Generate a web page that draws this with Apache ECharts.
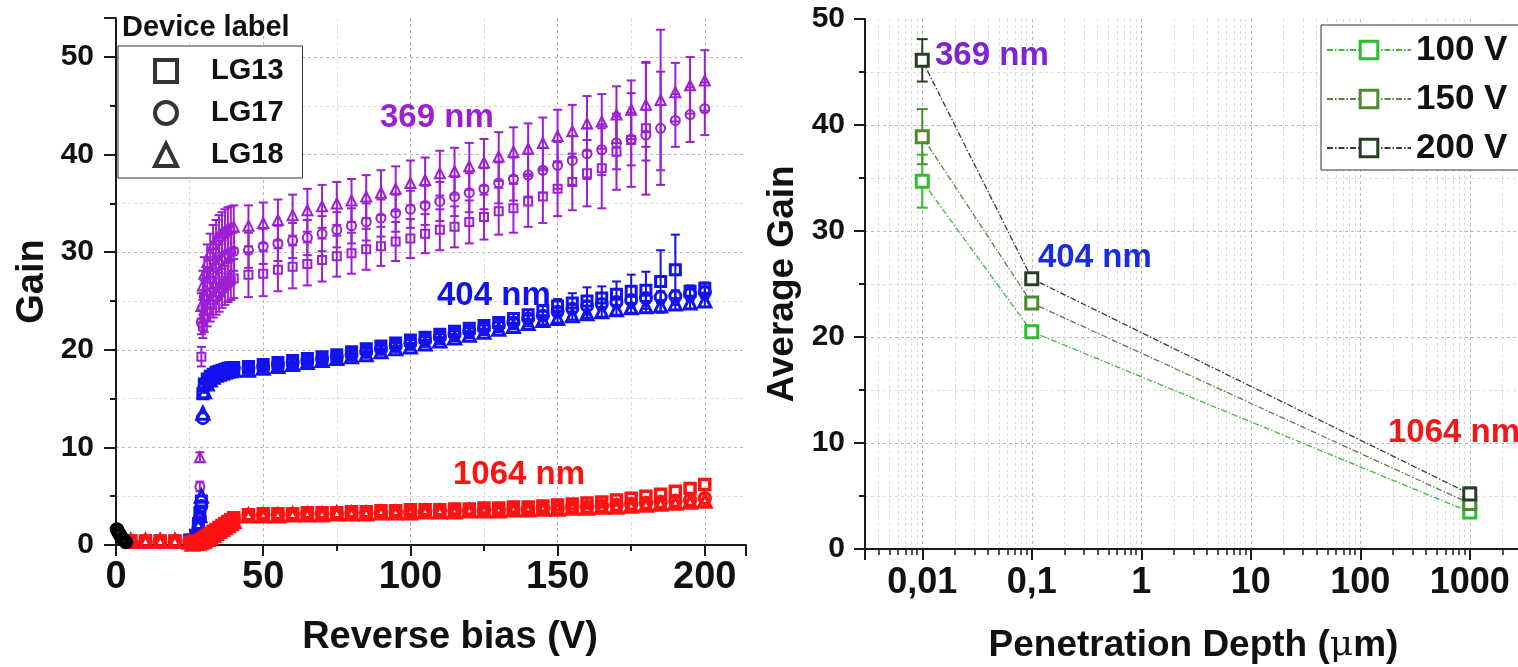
<!DOCTYPE html>
<html><head><meta charset="utf-8">
<script src="https://cdn.jsdelivr.net/npm/echarts@6/dist/echarts.min.js"></script>
<style>html,body{margin:0;padding:0;background:#fff;overflow:hidden;width:1518px;height:667px}#c{width:1600px;height:667px}</style>
</head><body><div id="c"></div>
<script>
// ---------------- Left panel: Gain vs reverse bias ----------------
const V_LOW = [5, 10, 15, 20, 25];
const V_MAIN = [45, 50, 55, 60, 65, 70, 75, 80, 85, 90, 95, 100, 105, 110, 115, 120, 125, 130, 135, 140, 145, 150, 155, 160, 165, 170, 175, 180, 185, 190, 195, 200];
const V_T369 = [28.5, 29, 29.5, 30, 31, 32, 33, 34, 35, 36, 37, 38, 39, 40];
const V_T404 = [26, 27, 28, 28.5, 29, 29.5, 30, 31, 32, 33, 34, 35, 36, 37, 38, 39, 40];
const V_T1064 = [26, 27, 28, 29, 30, 31, 32, 33, 34, 35, 36, 37, 38, 39, 40];
const V_DARK = [0.3, 0.8, 1.4, 2.0, 2.7, 3.4];
const G_DARK = [1.6, 1.3, 1.0, 0.7, 0.5, 0.3];

// 369 nm
const G369_13_T = [3.0, 19.3, 22.4, 23.3, 24.0, 24.6, 25.1, 25.5, 25.9, 26.3, 26.6, 26.9, 27.1, 27.3];
const E369_13_T = [0.4, 1.0, 1.2, 1.5, 1.6, 1.7, 1.8, 1.9, 2.0, 2.0, 2.0, 2.0, 2.0, 2.0];
const G369_17_T = [6.0, 22.8, 24.3, 25.4, 26.5, 27.3, 27.9, 28.4, 28.8, 29.2, 29.5, 29.8, 30.0, 30.1];
const E369_17_T = [0.5, 1.2, 1.5, 1.7, 1.8, 1.9, 2.0, 2.0, 2.0, 2.0, 2.0, 2.0, 2.0, 2.0];
const G369_18_T = [9.0, 24.5, 26.6, 27.8, 29.0, 30.0, 30.8, 31.3, 31.7, 32.0, 32.2, 32.4, 32.5, 32.6];
const E369_18_T = [0.5, 1.3, 1.5, 1.7, 1.8, 1.9, 2.0, 2.0, 2.1, 2.1, 2.2, 2.2, 2.2, 2.2];
const G369_13 = [27.7, 27.8, 28.2, 28.5, 28.8, 29.2, 29.6, 29.9, 30.3, 30.6, 31.1, 31.4, 31.9, 32.3, 32.6, 33.1, 33.6, 34.2, 34.5, 35.2, 35.7, 36.5, 37.2, 38.1, 38.6, 40.3, 41.5, 42.7];
const E369_13 = [2.3, 2.3, 2.2, 2.2, 2.2, 2.2, 2.1, 2.1, 2.1, 2.0, 2.0, 2.0, 2.0, 2.1, 2.1, 2.2, 2.3, 2.4, 2.5, 2.6, 2.7, 2.8, 2.9, 3.4, 4.1, 3.9, 4.8, 6.8];
const G369_17 = [30.2, 30.6, 30.9, 31.2, 31.5, 31.9, 32.3, 32.7, 33.1, 33.5, 34.0, 34.4, 34.8, 35.2, 35.7, 36.1, 36.5, 37.1, 37.5, 37.9, 38.4, 38.9, 39.4, 40.1, 40.5, 41.2, 41.6, 42.0, 42.7, 43.5, 44.1, 44.7];
const E369_17 = [1.8, 1.8, 1.8, 1.8, 1.8, 1.8, 1.8, 1.8, 1.9, 1.9, 1.9, 1.9, 2.0, 2.0, 2.0, 2.0, 2.1, 2.1, 2.2, 2.2, 2.3, 2.4, 2.5, 2.6, 2.6, 2.7, 2.7, 2.6, 5.8, 2.7, 2.8, 2.7];
const G369_18 = [32.7, 33.0, 33.3, 33.8, 34.3, 34.7, 35.0, 35.3, 35.7, 36.1, 36.5, 37.1, 37.4, 38.1, 38.3, 38.8, 39.2, 39.8, 40.3, 40.6, 41.2, 41.9, 42.4, 43.2, 43.4, 44.1, 44.6, 45.1, 45.6, 46.4, 47.1, 47.6];
const E369_18 = [2.1, 2.1, 2.1, 2.1, 2.2, 2.2, 2.2, 2.2, 2.2, 2.3, 2.3, 2.3, 2.3, 2.3, 2.4, 2.4, 2.4, 2.5, 2.5, 2.6, 2.6, 2.7, 2.7, 2.8, 2.8, 2.9, 3.0, 4.3, 7.2, 3.0, 2.9, 3.1];

// 404 nm
const G404_13_L = [0.4, 0.4, 0.4, 0.4, 0.5];
const G404_17_L = [0.3, 0.3, 0.3, 0.3, 0.4];
const G404_18_L = [0.4, 0.4, 0.4, 0.4, 0.4];
const G404_13_T = [0.5, 1.0, 2.2, 3.3, 4.5, 15.5, 16.5, 17.0, 17.3, 17.5, 17.7, 17.8, 17.9, 18.0, 18.1, 18.15, 18.2];
const G404_17_T = [0.4, 0.8, 1.8, 2.8, 4.0, 13.0, 16.2, 16.8, 17.2, 17.4, 17.6, 17.7, 17.8, 17.9, 18.0, 18.05, 18.1];
const G404_18_T = [0.4, 0.9, 2.0, 3.0, 5.0, 13.5, 15.7, 16.5, 16.9, 17.2, 17.4, 17.5, 17.6, 17.7, 17.8, 17.85, 17.9];
const G404_13 = [18.3, 18.5, 18.7, 18.9, 19.1, 19.3, 19.5, 19.8, 20.1, 20.4, 20.7, 21.0, 21.3, 21.6, 21.9, 22.2, 22.5, 22.8, 23.2, 23.6, 24.0, 24.5, 24.8, 25.0, 25.3, 25.7, 26.0, 26.1, 27.0, 28.2, 26.0, 26.3];
const E404_13 = [0.3, 0.3, 0.3, 0.3, 0.3, 0.3, 0.3, 0.3, 0.3, 0.3, 0.3, 0.3, 0.3, 0.3, 0.3, 0.3, 0.4, 0.4, 0.5, 0.5, 0.6, 0.7, 1.0, 1.4, 1.2, 1.3, 1.7, 1.9, 3.2, 3.6, 0.6, 0.6];
const G404_17 = [18.1, 18.3, 18.5, 18.7, 18.9, 19.1, 19.3, 19.5, 19.8, 20.1, 20.4, 20.7, 21.0, 21.3, 21.6, 21.9, 22.2, 22.5, 22.8, 23.2, 23.5, 23.9, 24.2, 24.5, 24.7, 24.9, 25.1, 25.3, 25.4, 25.5, 25.7, 25.9];
const E404_17 = [0.3, 0.3, 0.3, 0.3, 0.3, 0.3, 0.3, 0.3, 0.3, 0.3, 0.3, 0.3, 0.3, 0.3, 0.3, 0.3, 0.3, 0.3, 0.3, 0.3, 0.4, 0.4, 0.4, 0.4, 0.5, 0.5, 0.5, 0.5, 0.6, 0.6, 0.6, 0.6];
const G404_18 = [17.9, 18.1, 18.3, 18.5, 18.7, 18.9, 19.1, 19.3, 19.5, 19.8, 20.1, 20.3, 20.6, 20.9, 21.2, 21.5, 21.8, 22.1, 22.4, 22.7, 23.0, 23.2, 23.5, 23.7, 23.9, 24.1, 24.3, 24.4, 24.5, 24.7, 24.8, 25.0];
const E404_18 = [0.3, 0.3, 0.3, 0.3, 0.3, 0.3, 0.3, 0.3, 0.3, 0.3, 0.3, 0.3, 0.3, 0.3, 0.3, 0.3, 0.3, 0.3, 0.3, 0.3, 0.4, 0.4, 0.4, 0.4, 0.5, 0.5, 0.5, 0.6, 0.6, 0.6, 0.6, 0.6];

// 1064 nm
const G1064_13_L = [0.4, 0.4, 0.4, 0.4, 0.3];
const G1064_17_L = [0.3, 0.3, 0.3, 0.3, 0.3];
const G1064_18_L = [0.4, 0.4, 0.4, 0.4, 0.3];
const G1064_13_T = [0.2, 0.3, 0.4, 0.6, 0.8, 1.0, 1.2, 1.4, 1.6, 1.8, 2.0, 2.2, 2.4, 2.6, 2.8];
const G1064_17_T = [0.2, 0.2, 0.3, 0.4, 0.6, 0.8, 1.0, 1.2, 1.4, 1.6, 1.8, 2.0, 2.2, 2.4, 2.6];
const G1064_18_T = [0.1, 0.2, 0.2, 0.3, 0.4, 0.6, 0.8, 1.0, 1.2, 1.4, 1.6, 1.8, 2.0, 2.2, 2.4];
const G1064_13 = [3.1, 3.2, 3.2, 3.2, 3.3, 3.3, 3.3, 3.4, 3.4, 3.5, 3.5, 3.6, 3.6, 3.6, 3.7, 3.7, 3.8, 3.8, 3.9, 3.9, 4.0, 4.1, 4.2, 4.3, 4.4, 4.6, 4.8, 5.0, 5.2, 5.5, 5.8, 6.2];
const G1064_17 = [3.0, 3.1, 3.1, 3.1, 3.2, 3.2, 3.2, 3.3, 3.3, 3.3, 3.4, 3.4, 3.4, 3.5, 3.5, 3.5, 3.6, 3.6, 3.7, 3.7, 3.8, 3.8, 3.9, 3.9, 4.0, 4.1, 4.2, 4.3, 4.4, 4.5, 4.6, 4.8];
const G1064_18 = [3.0, 3.0, 3.0, 3.1, 3.1, 3.1, 3.2, 3.2, 3.2, 3.3, 3.3, 3.3, 3.4, 3.4, 3.4, 3.5, 3.5, 3.5, 3.6, 3.6, 3.7, 3.7, 3.8, 3.8, 3.9, 3.9, 4.0, 4.1, 4.2, 4.3, 4.4, 4.5];

const DEVICES = ['LG13', 'LG17', 'LG18'];
const X_TICKS = [0, 50, 100, 150, 200];

// ---------------- Right panel: average gain vs penetration depth ----------------
const DEPTH = [0.01, 0.1, 1000];
const BIAS = ['100 V', '150 V', '200 V'];
const AVG_100 = [34.7, 20.5, 3.5];
const ERR_100 = [2.5, 0.3, 0.2];
const AVG_150 = [38.9, 23.2, 4.3];
const ERR_150 = [2.6, 0.4, 0.3];
const AVG_200 = [46.1, 25.5, 5.2];
const ERR_200 = [2.0, 0.5, 0.6];

// ---------------- styling ----------------
const FONT = '"Liberation Sans", Arial, Helvetica, sans-serif';
const C369 = '#9C1FD2', C404 = '#1212EE', C1064 = '#FF1212', CDARK = '#000000';
const GREEN = ['#2DBE2D', '#4C8A2E', '#24401F'];
const GLINE = ['#3DB83D', '#5E7F4A', '#3A3A3A'];
const SYM = { LG13: 'rect', LG17: 'circle', LG18: 'triangle' };
const AXC = '#1a1a1a';

function zip(xs, ys) { const o = []; for (let i = 0; i < ys.length; i++) o.push([xs[i], ys[i]]); return o; }
function errData(xs, ys, es) { const o = []; for (let i = 0; i < ys.length; i++) if (es && es[i] != null) o.push([xs[i], ys[i] - es[i], ys[i] + es[i]]); return o; }

function errSeries(data, color, xi, yi, cap, lw, z) {
  return {
    type: 'custom', xAxisIndex: xi, yAxisIndex: yi, silent: true, animation: false, z: z,
    encode: { x: 0, y: [1, 2] }, data: data, clip: false,
    renderItem: function (params, api) {
      const x = api.value(0), lo = api.value(1), hi = api.value(2);
      const a = api.coord([x, hi]), b = api.coord([x, lo]);
      const w = cap / 2;
      const st = { stroke: color, lineWidth: lw, fill: null };
      return { type: 'group', children: [
        { type: 'line', shape: { x1: a[0], y1: a[1], x2: b[0], y2: b[1] }, style: st },
        { type: 'line', shape: { x1: a[0] - w, y1: a[1], x2: a[0] + w, y2: a[1] }, style: st },
        { type: 'line', shape: { x1: b[0] - w, y1: b[1], x2: b[0] + w, y2: b[1] }, style: st }
      ] };
    }
  };
}

// size per device & wavelength group: [rect, circle, triangle]
const SZ_P = { LG13: 8, LG17: 9, LG18: 10 };
const SZ_B = { LG13: 10, LG17: 11, LG18: 12 };

const LEFT = [
  { c: C369, dev: 'LG13', parts: [[V_T369, G369_13_T, E369_13_T], [V_MAIN, G369_13, E369_13]], bw: 2, sz: SZ_P },
  { c: C369, dev: 'LG17', parts: [[V_T369, G369_17_T, E369_17_T], [V_MAIN, G369_17, E369_17]], bw: 2, sz: SZ_P },
  { c: C369, dev: 'LG18', parts: [[V_T369, G369_18_T, E369_18_T], [V_MAIN, G369_18, E369_18]], bw: 2, sz: SZ_P },
  { c: C404, dev: 'LG13', parts: [[V_LOW, G404_13_L], [V_T404, G404_13_T], [V_MAIN, G404_13, E404_13]], bw: 3, sz: SZ_B },
  { c: C404, dev: 'LG17', parts: [[V_LOW, G404_17_L], [V_T404, G404_17_T], [V_MAIN, G404_17, E404_17]], bw: 3, sz: SZ_B },
  { c: C404, dev: 'LG18', parts: [[V_LOW, G404_18_L], [V_T404, G404_18_T], [V_MAIN, G404_18, E404_18]], bw: 3, sz: SZ_B },
  { c: C1064, dev: 'LG13', parts: [[V_LOW, G1064_13_L], [V_T1064, G1064_13_T], [V_MAIN, G1064_13]], bw: 3.5, sz: SZ_B },
  { c: C1064, dev: 'LG17', parts: [[V_LOW, G1064_17_L], [V_T1064, G1064_17_T], [V_MAIN, G1064_17]], bw: 3.5, sz: SZ_B },
  { c: C1064, dev: 'LG18', parts: [[V_LOW, G1064_18_L], [V_T1064, G1064_18_T], [V_MAIN, G1064_18]], bw: 3.5, sz: SZ_B },
  { c: CDARK, dev: 'LG17', parts: [[V_DARK, G_DARK]], bw: 3.5, sz: SZ_B }
];

const series = [];
LEFT.forEach(function (g, k) {
  let pts = [], errs = [];
  g.parts.forEach(function (p) { pts = pts.concat(zip(p[0], p[1])); if (p[2]) errs = errs.concat(errData(p[0], p[1], p[2])); });
  if (errs.length) series.push(errSeries(errs, g.c, 0, 0, 9, 2, 2));
  series.push({
    type: 'scatter', name: 'd' + k, xAxisIndex: 0, yAxisIndex: 0, silent: true, animation: false, z: 3,
    symbol: SYM[g.dev], symbolSize: g.sz[g.dev], data: pts,
    itemStyle: { color: 'rgba(255,255,255,0)', borderColor: g.c, borderWidth: g.bw, opacity: 1 }
  });
});
// legend-only series for the device symbols
DEVICES.forEach(function (d) {
  series.push({ type: 'scatter', name: d, xAxisIndex: 0, yAxisIndex: 0, data: [], symbol: SYM[d], symbolKeepAspect: true,
    itemStyle: { color: 'rgba(255,255,255,0)', borderColor: '#000', borderWidth: 4 } });
});
// right panel
const AVGS = [AVG_100, AVG_150, AVG_200], ERRS = [ERR_100, ERR_150, ERR_200];
BIAS.forEach(function (b, i) {
  series.push(errSeries(errData(DEPTH, AVGS[i], ERRS[i]), GREEN[i], 1, 1, 11, 2, 4 + i));
  series.push({
    type: 'line', name: b, xAxisIndex: 1, yAxisIndex: 1, data: zip(DEPTH, AVGS[i]), animation: false, silent: true,
    symbol: 'rect', symbolSize: 12, z: 5 + i,
    lineStyle: { color: GLINE[i], width: 1.3, type: [6, 2, 1.5, 2] },
    itemStyle: { color: '#ffffff', borderColor: GREEN[i], borderWidth: 3 }
  });
});

function lbl(size) { return { fontSize: size, fontWeight: 'bold', color: '#111', fontFamily: FONT }; }
const SPLIT = { show: true, showMaxLine: false, showMinLine: false, lineStyle: { color: '#b8b8b8', width: 1, type: [3, 3] } };
const MINSPLIT = { show: true, lineStyle: { color: '#dadada', width: 1, type: [3, 3] } };

const option = {
  backgroundColor: '#ffffff',
  animation: false,
  textStyle: { fontFamily: FONT },
  grid: [
    { left: 116, top: 18, width: 630, height: 527, outerBoundsMode: 'none', containLabel: false },
    { left: 865, top: 19, width: 657, height: 530, outerBoundsMode: 'none', containLabel: false }
  ],
  xAxis: [
    { type: 'value', gridIndex: 0, min: 0, max: 214, interval: 50,
      axisLine: { show: true, onZero: false, lineStyle: { color: AXC, width: 2 } },
      axisTick: { show: true, inside: false, length: 11, lineStyle: { color: AXC, width: 2 } },
      minorTick: { show: true, splitNumber: 2, length: 6, lineStyle: { color: AXC, width: 2 } },
      axisLabel: Object.assign({ margin: 14, formatter: function (v) { return X_TICKS.indexOf(v) >= 0 ? String(v) : ''; } }, lbl(38)),
      splitLine: SPLIT, minorSplitLine: MINSPLIT,
      name: 'Reverse bias (V)', nameLocation: 'middle', nameGap: 74,
      nameTextStyle: Object.assign({ padding: [0, 0, 0, 38] }, lbl(38)) },
    { type: 'log', logBase: 10, gridIndex: 1, min: 0.003, max: 3000, splitNumber: 6,
      axisLine: { show: true, onZero: false, lineStyle: { color: AXC, width: 2 } },
      axisTick: { show: true, inside: false, length: 11, lineStyle: { color: AXC, width: 2 } },
      minorTick: { show: true, splitNumber: 9, length: 6, lineStyle: { color: AXC, width: 1.5 } },
      axisLabel: Object.assign({ margin: 16, formatter: function (v) {
        const lg = Math.log10(v); if (Math.abs(lg - Math.round(lg)) > 1e-6) return '';
        return String(Math.pow(10, Math.round(lg))).replace('.', ',');
      } }, lbl(36)),
      splitLine: SPLIT, minorSplitLine: MINSPLIT,
      name: 'Penetration Depth ({mu|\u03bc}m)', nameLocation: 'middle', nameGap: 78,
      nameTextStyle: Object.assign({ rich: { mu: { fontFamily: '"DejaVu Serif", serif', fontSize: 36, fontWeight: 'normal', color: '#111' } } }, lbl(37)) }
  ],
  yAxis: [
    { type: 'value', gridIndex: 0, min: 0, max: 54, interval: 10,
      axisLine: { show: true, onZero: false, lineStyle: { color: AXC, width: 2 } },
      axisTick: { show: true, inside: false, length: 12, lineStyle: { color: AXC, width: 2 } },
      minorTick: { show: true, splitNumber: 2, length: 6, lineStyle: { color: AXC, width: 2 } },
      axisLabel: Object.assign({ margin: 22, showMaxLabel: false, formatter: function (v) { return v % 10 === 0 ? String(v) : ''; } }, lbl(30)),
      splitLine: SPLIT, minorSplitLine: MINSPLIT,
      name: 'Gain', nameLocation: 'middle', nameGap: 64, nameRotate: 90, nameTextStyle: lbl(38) },
    { type: 'value', gridIndex: 1, min: 0, max: 50, interval: 10,
      axisLine: { show: true, onZero: false, lineStyle: { color: AXC, width: 2 } },
      axisTick: { show: true, inside: false, length: 11, lineStyle: { color: AXC, width: 2 } },
      minorTick: { show: true, splitNumber: 2, length: 6, lineStyle: { color: AXC, width: 2 } },
      axisLabel: Object.assign({ margin: 20 }, lbl(30)),
      splitLine: SPLIT, minorSplitLine: MINSPLIT,
      name: 'Average Gain', nameLocation: 'middle', nameGap: 64, nameRotate: 90, nameTextStyle: lbl(37) }
  ],
  legend: [
    { data: DEVICES, orient: 'vertical', left: 118, top: 46, selectedMode: false,
      itemWidth: 22, itemHeight: 22, itemGap: 12, padding: [10, 19, 8, 35],
      borderColor: '#333', borderWidth: 1, backgroundColor: '#fff',
      itemStyle: { borderWidth: 4, borderColor: '#000', color: 'rgba(255,255,255,0)' },
      textStyle: { fontSize: 29, fontWeight: 'bold', color: '#111', fontFamily: FONT, lineHeight: 30, padding: [0, 0, 0, 29] } },
    { data: BIAS, orient: 'vertical', left: 1321, top: 25, selectedMode: false,
      itemWidth: 84, itemHeight: 22, itemGap: 13, padding: [7, 20, 4, 5],
      borderColor: '#333', borderWidth: 1, backgroundColor: '#fff',
      itemStyle: { borderWidth: 3 },
      textStyle: { fontSize: 35, fontWeight: 'bold', color: '#111', fontFamily: FONT, lineHeight: 36 } }
  ],
  graphic: [
    { type: 'text', x: 122, y: 28, z: 100, style: { text: 'Device label', fill: '#111', font: 'bold 29px ' + FONT, verticalAlign: 'middle' } },
    { type: 'text', x: 380, y: 118, z: 100, style: { text: '369 nm', fill: C369, font: 'bold 33px ' + FONT, verticalAlign: 'middle' } },
    { type: 'text', x: 437, y: 296, z: 100, style: { text: '404 nm', fill: C404, font: 'bold 33px ' + FONT, verticalAlign: 'middle' } },
    { type: 'text', x: 453, y: 475, z: 100, style: { text: '1064 nm', fill: C1064, font: 'bold 33px ' + FONT, verticalAlign: 'middle' } },
    { type: 'text', x: 935, y: 56, z: 100, style: { text: '369 nm', fill: '#7D24D4', font: 'bold 33px ' + FONT, verticalAlign: 'middle' } },
    { type: 'text', x: 1038, y: 258, z: 100, style: { text: '404 nm', fill: '#1A2BE0', font: 'bold 33px ' + FONT, verticalAlign: 'middle' } },
    { type: 'text', x: 1388, y: 433, z: 100, style: { text: '1064 nm', fill: '#F01818', font: 'bold 33px ' + FONT, verticalAlign: 'middle' } }
  ],
  series: series
};
const chart = echarts.init(document.getElementById('c'));
chart.setOption(option);
</script></body></html>
